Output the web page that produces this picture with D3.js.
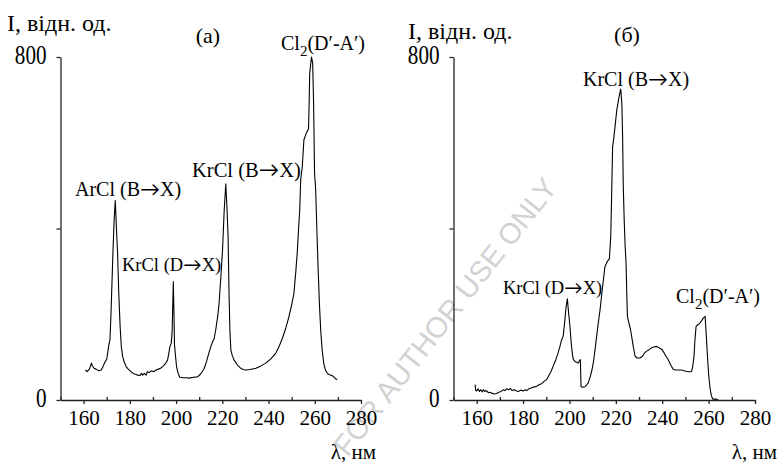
<!DOCTYPE html>
<html>
<head>
<meta charset="utf-8">
<script src="https://cdn.jsdelivr.net/npm/d3@7"></script>
<style>
  html, body { margin: 0; padding: 0; background: #fff; }
  svg { display: block; }
</style>
</head>
<body>
<script>
// ---------- DATA ----------
// Panel (a): wavelength (nm), intensity (rel. units)
const spectrumA = [
  [160.8,70],[161.5,66],[162.5,72],[163.4,86],[163.8,80],[164.5,74],[165.4,72],[166.5,68],[167.6,70],
  [168.4,78],[169,86],[170,95],[170.9,128],[171.4,140],[171.9,210],[172.6,330],[173.2,420],[173.7,465],
  [174.2,400],[174.7,343],[175.2,250],[175.8,171],[176.3,125],[176.9,101],[177.6,88],[178.4,78],[179.3,72],
  [180.5,66],[181.5,62],[182.4,60],[183.4,58],[184.4,57],[185.0,62],[185.6,58],[186.3,62],[187.0,58],
  [187.6,66],[188.4,64],[189.3,68],[190.3,66],[191.3,70],[192.3,72],[193.3,74],[194.2,78],[195.3,84],
  [196.3,93],[196.9,110],[197.3,124],[197.9,132],[198.3,160],[198.8,276],[199.1,200],[199.3,130],[199.8,100],
  [200.2,78],[200.9,62],[201.6,53],[203.0,52],[204.5,52],[205.7,51],[207.5,53],[209.3,54],[210.5,60],
  [211.3,66],[212.2,74],[213.2,90],[214.2,110],[215,124],[215.8,136],[216.5,144],[217.2,165],[218,195],
  [218.6,225],[219.4,290],[220.1,350],[220.8,440],[221.5,504],[222.0,450],[222.5,381],[222.9,250],[223.3,160],
  [223.7,117],[224.3,104],[225.1,93],[226.5,82],[228,74],[229,71],[230.1,70],[232,71],[234.5,74],[236.5,79],
  [238.8,86],[241,96],[243.1,109],[244.5,124],[246,144],[247.5,168],[248.8,194],[250,222],[251,249],
  [251.8,300],[252.4,342],[253.0,400],[253.5,443],[253.9,513],[254.6,544],[255.3,607],[256.3,622],[257.3,632],
  [257.6,700],[257.8,762],[258.2,781],[258.6,800],[259.1,785],[259.5,690],[259.9,530],[260.4,490],[261,381],
  [261.5,300],[262,225],[262.6,160],[263.2,117],[263.9,85],[264.6,70],[265.5,62],[266.8,58],[267.8,56],
  [268.5,52],[269.7,47]
];
// Panel (б)
const spectrumB = [
  [159.3,36],[159.6,22],[160,21],[160.6,26],[161.2,20],[161.8,24],[162.4,19],[162.9,24],[163.5,20],[164.2,22],
  [165,17],[165.7,18],[166.5,16],[167.5,14],[168.6,15],[169.5,18],[170.5,20],[171.5,24],[172.2,22],[172.9,26],
  [173.8,24],[174.5,27],[175.3,22],[176.2,24],[177.2,21],[178,20],[179,23],[180,21],[181,24],[181.6,22],
  [182.5,26],[183.5,28],[184.5,30],[185.9,32],[187,36],[188,38],[189.2,44],[190.2,48],[191,56],[192,66],
  [193,79],[194,92],[195,108],[195.9,125],[196.6,140],[197.3,149],[197.9,180],[198.5,215],[199.1,236],
  [199.6,205],[200.2,172],[200.8,130],[201.3,105],[201.7,94],[202.4,90],[203.1,88],[203.8,86],[204.3,92],
  [204.7,94],[205.0,31],[205.7,30],[206.7,31],[207.4,35],[208.1,40],[209,55],[209.7,70],[210.3,87],[211.2,125],
  [212.2,170],[213.2,211],[214.2,260],[215.3,311],[216.2,322],[217.2,329],[217.8,380],[218.2,480],[218.6,590],
  [219.2,615],[220.4,676],[221.3,705],[222.1,725],[222.6,690],[222.9,620],[223.2,500],[223.6,420],[224.0,360],
  [224.4,319],[224.8,230],[225.0,195],[225.8,176],[226.3,165],[226.8,149],[227.5,125],[228.3,102],[229.2,98],
  [230.4,98],[231.5,102],[232.4,110],[233.3,114],[234.5,118],[235.5,122],[236.6,124],[237.6,125],[238.6,122],
  [239.8,118],[240.8,110],[241.6,102],[242.6,94],[243.6,82],[244.8,71],[246,70],[247.2,70],[248.2,70],
  [249.1,69],[250.2,67],[251.3,66],[252.2,66],[252.7,67],[253.2,80],[253.7,102],[254.1,140],[254.6,172],
  [255.5,176],[256.3,180],[257.0,185],[257.7,191],[258.5,195],[259.0,150],[259.5,102],[260.0,60],[260.6,28],
  [261.2,10],[261.8,2],[263,2],[264.2,0]
];
const xDomain = [150, 280];
const yDomain = [0, 800];
const xMajorTicks = [160, 180, 200, 220, 240, 260, 280];
const xMinorTicks = [150, 170, 190, 210, 230, 250, 270];
const yTicks = [0, 400, 800];
const yTickLabels = ["0", "", "800"];
const yTitle = "I, відн. од.";
const xTitle = "λ, нм";
const panelTitles = ["(а)", "(б)"];
const labelsA = ["ArCl (B→X)", "KrCl (D→X)", "KrCl (B→X)", "Cl2(D′-A′)"];
const labelsB = ["KrCl (D→X)", "KrCl (B→X)", "Cl2(D′-A′)"];
const watermark = "FOR AUTHOR USE ONLY";

// ---------- LAYOUT ----------
const SERIF = "Liberation Serif";
const W = 779, H = 464;
const svg = d3.select("body").append("svg").attr("width", W).attr("height", H);

// watermark behind everything
svg.append("text")
  .attr("transform", "translate(447,318) rotate(-52)")
  .attr("text-anchor", "middle")
  .attr("dominant-baseline", "middle")
  .attr("font-family", "Liberation Sans")
  .attr("font-size", 29)
  .attr("fill", "#d2d2d2")
  .text(watermark);

const panels = [
  {
    x0: 60.5, x1: 361, data: spectrumA, title: panelTitles[0],
    yTitlePos: [7, 31], titlePos: [208, 43], xTitleEnd: [376, 459],
    labels: [
      { t: labelsA[0], x: 75, y: 196, fs: 20 },
      { t: labelsA[1], x: 122, y: 271, fs: 18.5 },
      { t: labelsA[2], x: 192, y: 177, fs: 20.5 },
      { t: labelsA[3], x: 281, y: 50, fs: 20 }
    ]
  },
  {
    x0: 453.5, x1: 755, data: spectrumB, title: panelTitles[1],
    yTitlePos: [408, 39], titlePos: [627, 42], xTitleEnd: [777, 459],
    labels: [
      { t: labelsB[0], x: 503, y: 294, fs: 18.5 },
      { t: labelsB[1], x: 583, y: 86, fs: 20 },
      { t: labelsB[2], x: 676, y: 303, fs: 20 }
    ]
  }
];

const y = d3.scaleLinear().domain(yDomain).range([400, 57]);

function serifText(parent) {
  return parent.append("text").attr("font-family", SERIF).attr("fill", "#000");
}

function drawLabel(g, L) {
  const t = serifText(g).attr("x", L.x).attr("y", L.y).attr("font-size", L.fs);
  const m = L.t.match(/^Cl2(.*)$/);
  if (m) {
    t.append("tspan").text("Cl");
    t.append("tspan").attr("dy", 6).attr("font-size", L.fs * 0.75).text("2");
    t.append("tspan").attr("dy", -6).text(m[1]);
  } else {
    const parts = L.t.split("→");
    t.append("tspan").text(parts[0]);
    if (parts.length > 1) {
      t.append("tspan").attr("font-family", "Lato").text("→");
      t.append("tspan").text(parts[1]);
    }
  }
}

panels.forEach(p => {
  const x = d3.scaleLinear().domain(xDomain).range([p.x0, p.x1]);
  const g = svg.append("g");

  // spectrum line
  const line = d3.line().x(d => x(d[0])).y(d => y(d[1]));
  g.append("path").datum(p.data)
    .attr("d", line)
    .attr("fill", "none")
    .attr("stroke", "#000")
    .attr("stroke-width", 1.1)
    .attr("stroke-linejoin", "round");

  // x axis: major ticks down with labels
  const xa = g.append("g").attr("transform", "translate(0,400)")
    .call(d3.axisBottom(x).tickValues(xMajorTicks).tickSize(4).tickSizeOuter(0).tickFormat(d3.format("d")));
  xa.attr("font-family", SERIF).attr("font-size", 21);
  xa.selectAll("text").attr("y", 25).attr("dy", null).attr("fill", "#000").attr("font-family", SERIF);
  // minor ticks up
  const xm = g.append("g").attr("transform", "translate(0,400)")
    .call(d3.axisTop(x).tickValues(xMinorTicks).tickSize(3).tickSizeOuter(0).tickFormat(""));
  xm.select(".domain").remove();

  // y axis
  const ya = g.append("g").attr("transform", `translate(${p.x0},0)`)
    .call(d3.axisLeft(y).tickValues(yTicks).tickSize(4).tickSizeOuter(0).tickFormat(() => ""));
  [xa, xm, ya].forEach(a => {
    a.selectAll("path, line").attr("stroke", "#222").attr("stroke-width", 1.3);
  });

  // y tick labels
  yTicks.forEach((v, i) => {
    if (!yTickLabels[i]) return;
    serifText(g)
      .attr("transform", `translate(${p.x0 - 14},${y(v) + 7}) scale(0.88,1.1)`)
      .attr("text-anchor", "end")
      .attr("font-size", 24)
      .text(yTickLabels[i]);
  });

  // titles
  serifText(g).attr("x", p.yTitlePos[0]).attr("y", p.yTitlePos[1]).attr("font-size", 24).text(yTitle);
  serifText(g).attr("x", p.titlePos[0]).attr("y", p.titlePos[1])
    .attr("text-anchor", "middle").attr("font-size", 22).text(p.title);
  serifText(g).attr("x", p.xTitleEnd[0]).attr("y", p.xTitleEnd[1])
    .attr("text-anchor", "end").attr("font-size", 21).text(xTitle);

  p.labels.forEach(L => drawLabel(g, L));
});
</script>
</body>
</html>
